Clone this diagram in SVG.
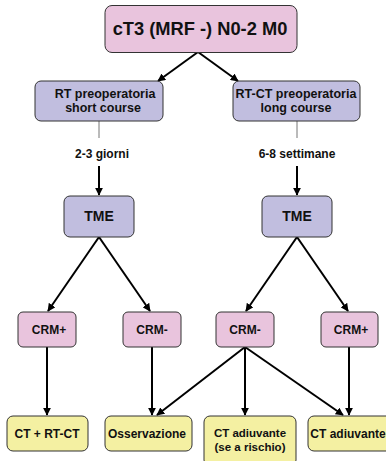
<svg xmlns="http://www.w3.org/2000/svg" width="386" height="461" viewBox="0 0 386 461">
<defs>
<marker id="ah" viewBox="0 0 10 10" refX="9" refY="5" markerWidth="4" markerHeight="4" orient="auto" markerUnits="strokeWidth">
<path d="M0,0 L10,5 L0,10 z" fill="#000"/>
</marker>
<style>
text{font-family:"Liberation Sans",Arial,sans-serif;font-weight:bold;fill:#111;text-anchor:middle}
.pink{fill:#E9C4DD;stroke:#333;stroke-width:1}
.purp{fill:#C1BEDF;stroke:#333;stroke-width:1}
.yel{fill:#F4F0A2;stroke:#333;stroke-width:1}
.arr{stroke:#000;stroke-width:2;fill:none;marker-end:url(#ah)}
.gl{stroke:#777;stroke-width:1;fill:none}
.s12{font-size:12px}
</style>
</defs>
<rect width="386" height="461" fill="#fff"/>
<g id="connectors">
<line class="arr" x1="198" y1="52" x2="158" y2="81"/>
<line class="arr" x1="198" y1="52" x2="238" y2="81"/>
<line class="gl" x1="99" y1="121" x2="99" y2="138"/>
<line class="gl" x1="297" y1="121" x2="297" y2="138"/>
<line class="arr" x1="99" y1="166" x2="99" y2="195"/>
<line class="arr" x1="297" y1="166" x2="297" y2="195"/>
<line class="arr" x1="99" y1="237" x2="48" y2="311"/>
<line class="arr" x1="99" y1="237" x2="150" y2="311"/>
<line class="arr" x1="297" y1="237" x2="246" y2="311"/>
<line class="arr" x1="297" y1="237" x2="348" y2="311"/>
<line class="arr" x1="47" y1="347" x2="47" y2="415"/>
<line class="arr" x1="152" y1="347" x2="152" y2="415"/>
<line class="arr" x1="245" y1="347" x2="157" y2="415"/>
<line class="arr" x1="245" y1="347" x2="245" y2="415"/>
<line class="arr" x1="245" y1="347" x2="343" y2="415"/>
<line class="arr" x1="349" y1="347" x2="349" y2="415"/>
</g>
<g id="n-top">
<rect class="pink" x="105" y="5.5" width="192" height="47" rx="7"/>
<text x="200" y="35" style="font-size:18.3px">cT3 (MRF -) N0-2 M0</text>
</g>
<g id="n-rt">
<rect class="purp" x="35" y="81" width="128" height="40" rx="6"/>
<text class="s12" x="105" y="98" style="font-size:12.5px">RT preoperatoria</text>
<text class="s12" x="103" y="112" style="font-size:12.5px">short course</text>
</g>
<g id="n-rtct">
<rect class="purp" x="233" y="81" width="127" height="40" rx="6"/>
<text x="296" y="98" style="font-size:12.5px">RT-CT preoperatoria</text>
<text x="296" y="112" style="font-size:12.5px">long course</text>
</g>
<g id="l-short">
<text class="s12" x="102" y="158">2-3 giorni</text>
</g>
<g id="l-long">
<text class="s12" x="297" y="158">6-8 settimane</text>
</g>
<g id="n-tme1">
<rect class="purp" x="64" y="196" width="70" height="41" rx="6"/>
<text x="99" y="221" style="font-size:14px">TME</text>
</g>
<g id="n-tme2">
<rect class="purp" x="262" y="196" width="70" height="41" rx="6"/>
<text x="297" y="221" style="font-size:14px">TME</text>
</g>
<g id="n-crmp1">
<rect class="pink" x="18" y="312" width="58" height="35" rx="5"/>
<text class="s12" x="49" y="334">CRM+</text>
</g>
<g id="n-crmm1">
<rect class="pink" x="123" y="312" width="58" height="35" rx="5"/>
<text class="s12" x="152" y="334">CRM-</text>
</g>
<g id="n-crmm2">
<rect class="pink" x="216" y="312" width="58" height="35" rx="5"/>
<text class="s12" x="245" y="334">CRM-</text>
</g>
<g id="n-crmp2">
<rect class="pink" x="321" y="312" width="57" height="35" rx="5"/>
<text class="s12" x="351" y="334">CRM+</text>
</g>
<g id="n-ctrtct">
<rect class="yel" x="7" y="416" width="81" height="35" rx="6"/>
<text class="s12" x="47" y="438">CT + RT-CT</text>
</g>
<g id="n-oss">
<rect class="yel" x="105" y="416" width="87" height="35" rx="6"/>
<text class="s12" x="147" y="438">Osservazione</text>
</g>
<g id="n-ctrisk">
<rect class="yel" x="204" y="416" width="92" height="50" rx="6"/>
<text x="250" y="437" style="font-size:11.5px">CT adiuvante</text>
<text x="250" y="451" style="font-size:11.5px">(se a rischio)</text>
</g>
<g id="n-ctad">
<rect class="yel" x="308" y="416" width="90" height="35" rx="6"/>
<text class="s12" x="348" y="438">CT adiuvante</text>
</g>
</svg>
